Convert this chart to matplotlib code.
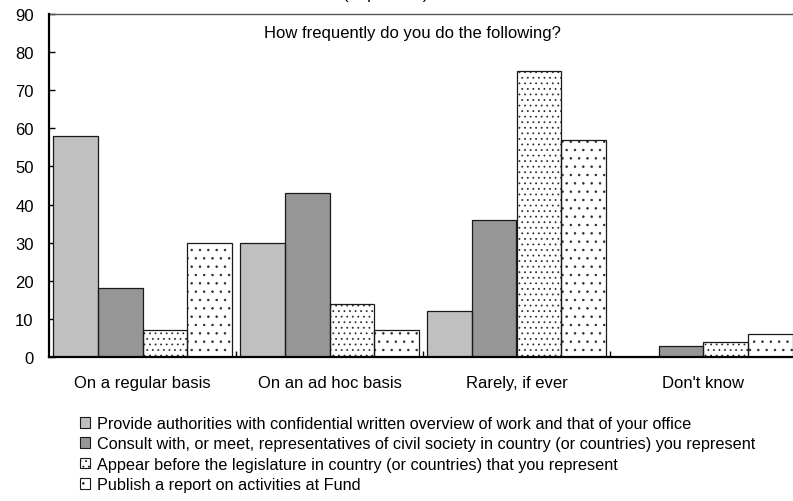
import numpy as np
import matplotlib
matplotlib.use("Agg")
import matplotlib.pyplot as plt
from matplotlib.patches import Patch

plt.rcParams["font.family"] = ["Liberation Sans", "DejaVu Sans"]
plt.rcParams["hatch.linewidth"] = 0.55

categories = ["On a regular basis", "On an ad hoc basis", "Rarely, if ever", "Don't know"]
series_names = [
    "Provide authorities with confidential written overview of work and that of your office",
    "Consult with, or meet, representatives of civil society in country (or countries) you represent",
    "Appear before the legislature in country (or countries) that you represent",
    "Publish a report on activities at Fund",
]
confidential_overview = [58, 30, 12, 0]
civil_society = [18, 43, 36, 3]
legislature = [7, 14, 75, 4]
report_published = [30, 7, 57, 6]
y_ticks = [0, 10, 20, 30, 40, 50, 60, 70, 80, 90]

values = [confidential_overview, civil_society, legislature, report_published]
faces = ["#c0c0c0", "#969696", "white", "white"]
hatches = [None, None, "...", ".."]
hatch_colors = ["#404040", "#303030", "#2a2a2a", "#2a2a2a"]

W, H = 793, 502
fig = plt.figure(figsize=(W / 100, H / 100), dpi=100)
ax = fig.add_axes([49 / W, 1 - 358 / H, 748 / W, (358 - 15) / H])

x = np.arange(len(categories))
bw = 0.24
for i, (vals, fc, ht, hc) in enumerate(zip(values, faces, hatches, hatch_colors)):
    pos = x + (i - 1.5) * bw
    # fill and dot pattern first, then a crisp outline on top
    ax.bar(pos, vals, width=bw, color=fc, hatch=ht, edgecolor=hc,
           linewidth=0, zorder=2)
    ax.bar(pos, vals, width=bw, fill=False, edgecolor="#1a1a1a",
           linewidth=0.9, zorder=3)

ax.set_xlim(-0.5, 3.5)
ax.set_ylim(0, 90)
ax.set_yticks(y_ticks)
ax.tick_params(axis="y", direction="in", length=4, width=1, pad=11,
               labelsize=12, colors="black")
ax.set_xticks(x)
ax.set_xticklabels(categories)
ax.tick_params(axis="x", which="major", length=0, pad=13, labelsize=12)
ax.set_xticks([0.5, 1.5, 2.5], minor=True)
ax.tick_params(axis="x", which="minor", direction="in", length=4, width=1)

for side in ("left", "bottom"):
    ax.spines[side].set_linewidth(1.6)
    ax.spines[side].set_color("black")
    ax.spines[side].set_zorder(4)
ax.spines["top"].set_linewidth(1.0)
ax.spines["top"].set_color("#555555")
ax.spines["right"].set_visible(False)

fig.text(412 / W, 1 - 34 / H, "How frequently do you do the following?",
         ha="center", va="center", fontsize=12)
fig.text(343 / W, 1 + 1.5 / H, "(In percent)", ha="left", va="baseline",
         fontsize=12)

handles = [Patch(facecolor=fc, edgecolor="#1a1a1a", hatch=ht, linewidth=0.8)
           for fc, ht in zip(faces, hatches)]
fig.legend(handles, series_names, loc="upper left",
           bbox_to_anchor=(80 / W, 1 - 417 / H), frameon=False,
           fontsize=11.7, handlelength=0.62, handleheight=0.62,
           handletextpad=0.43, labelspacing=0.33, borderaxespad=0,
           borderpad=0)

fig.savefig("out.png", dpi=100)
